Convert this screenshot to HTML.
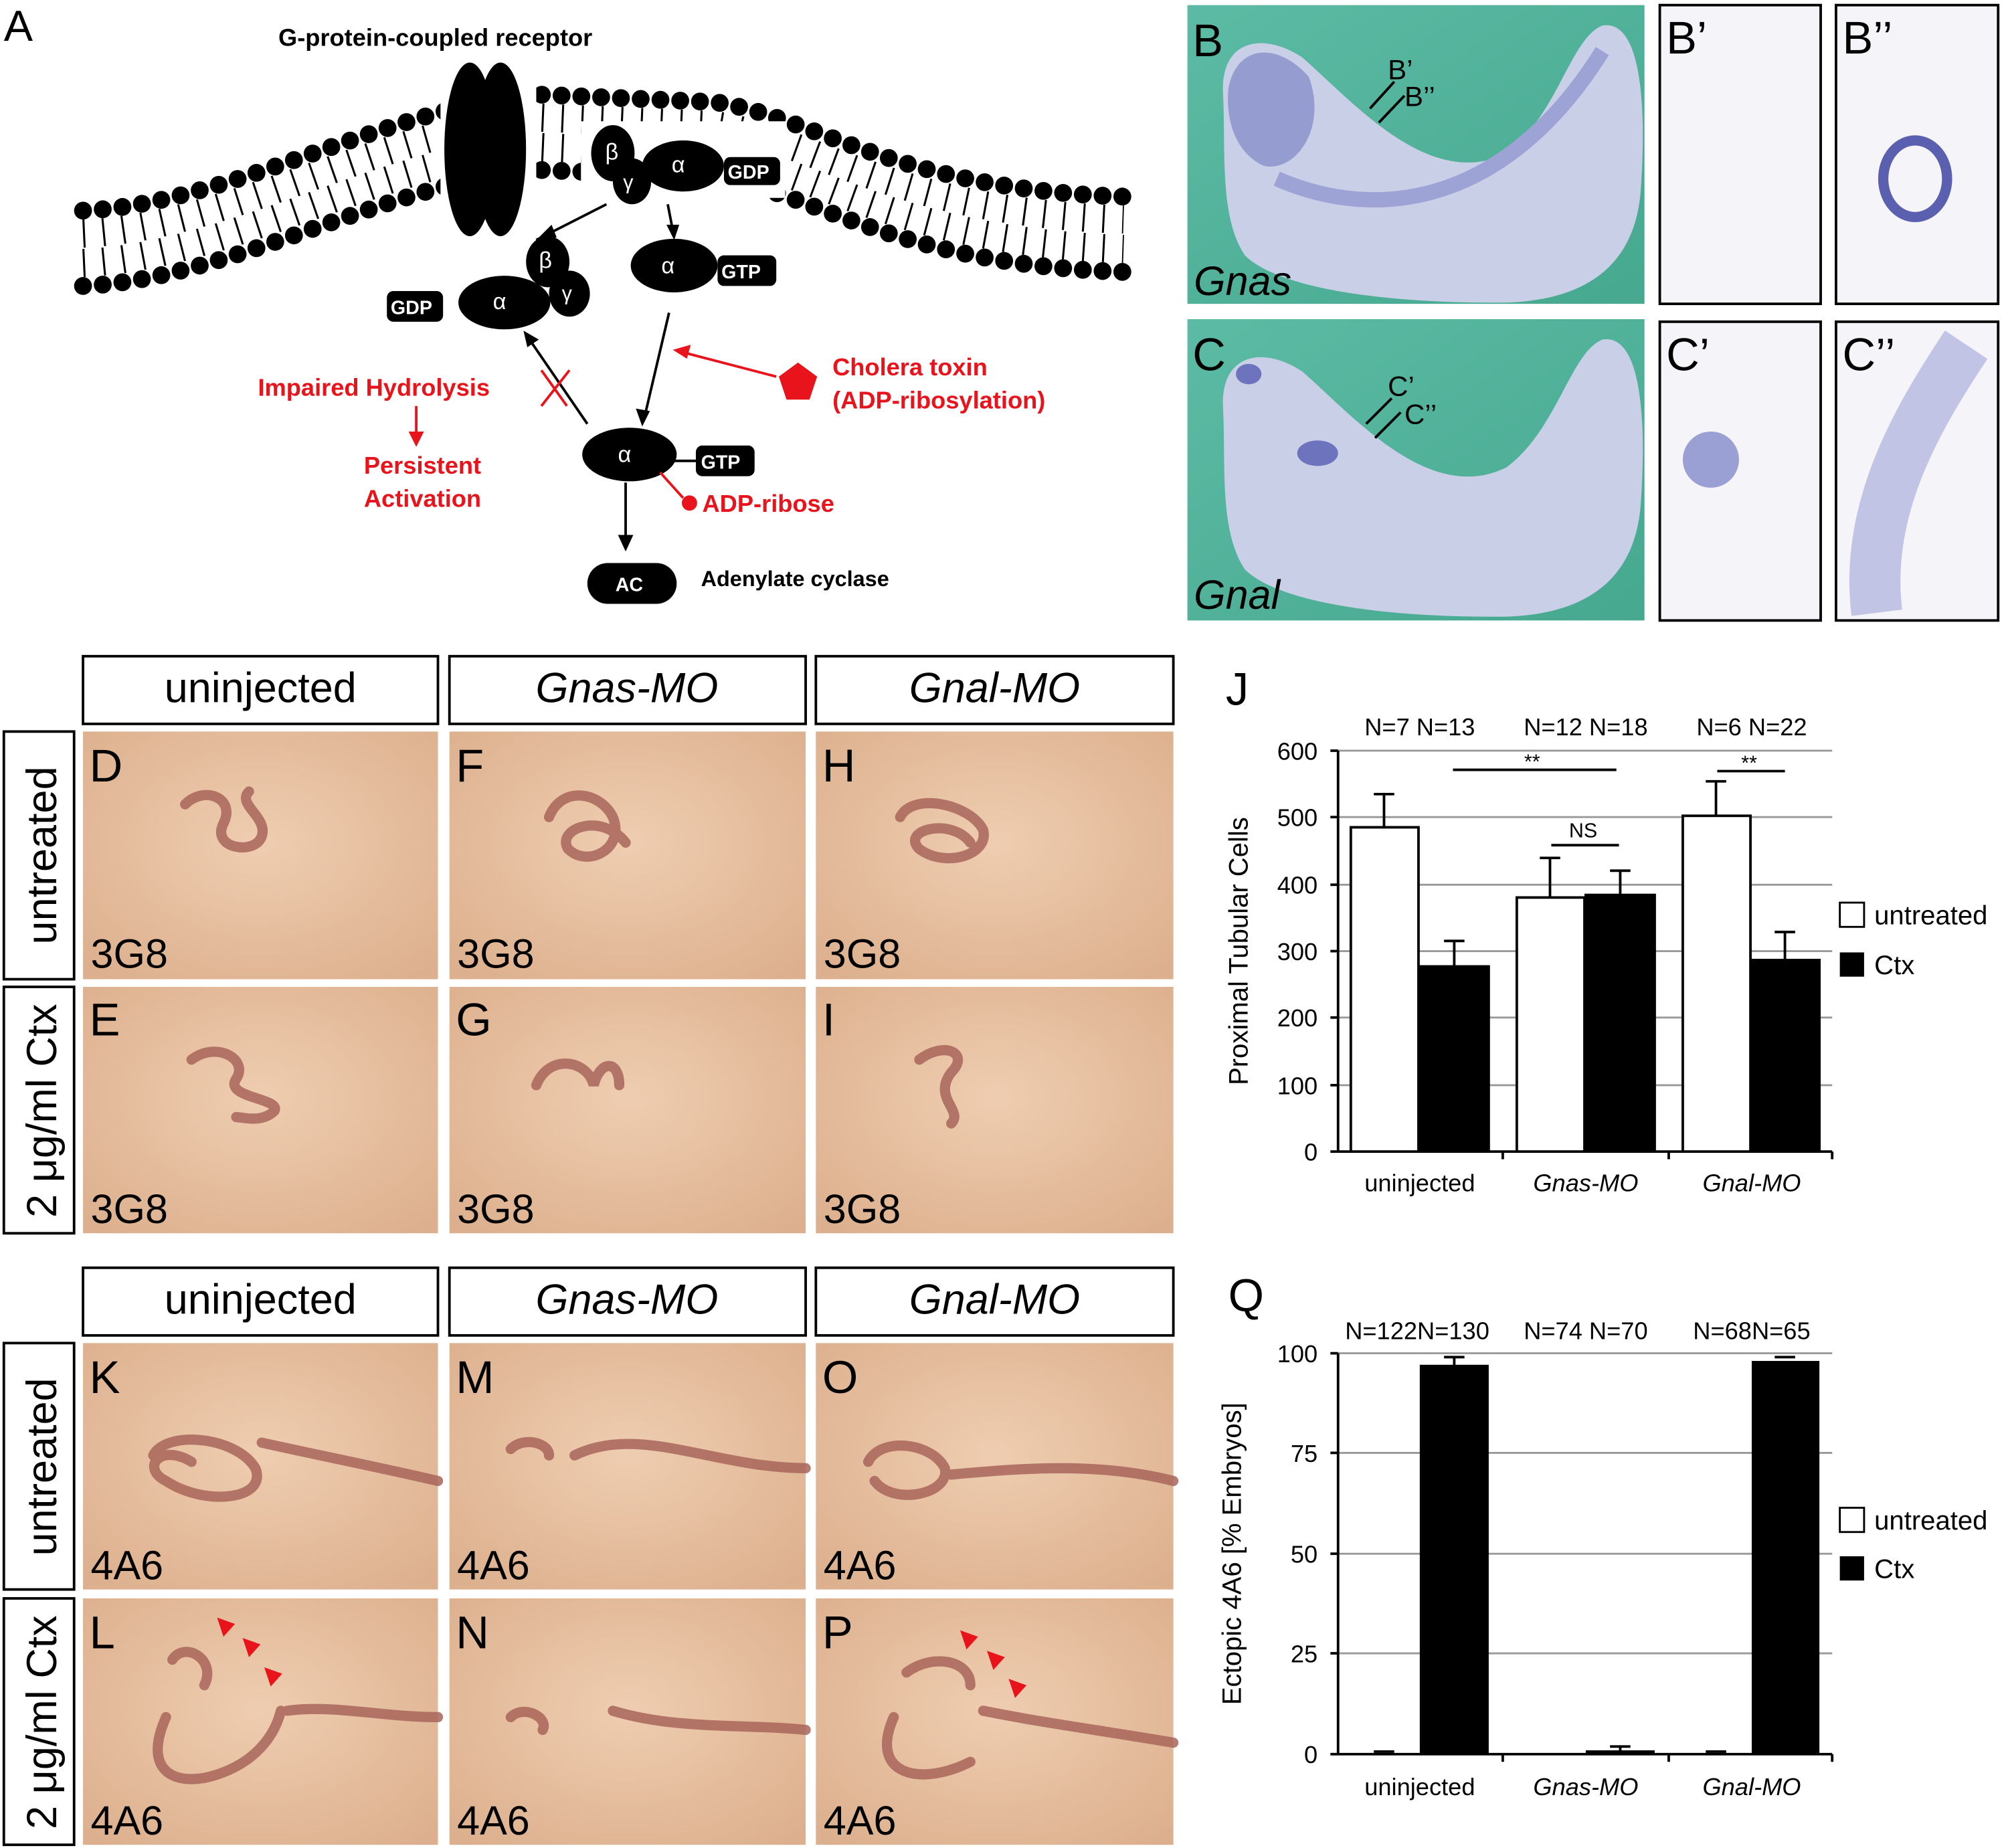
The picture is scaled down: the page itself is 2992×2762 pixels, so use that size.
<!DOCTYPE html>
<html><head><meta charset="utf-8"><style>
html,body{margin:0;padding:0;background:#fff}
svg{display:block}
text{font-family:"Liberation Sans",sans-serif}
</style></head><body>
<svg width="2992" height="2762" viewBox="0 0 1568 1447.5" xmlns="http://www.w3.org/2000/svg">
<defs>
<radialGradient id="skin" cx="50%" cy="45%" r="70%"><stop offset="0" stop-color="#efcdb0"/><stop offset="1" stop-color="#dcb08e"/></radialGradient>
<linearGradient id="teal" x1="0" y1="0" x2="1" y2="1"><stop offset="0" stop-color="#5bbba4"/><stop offset="1" stop-color="#47a890"/></linearGradient>
</defs>
<rect width="1568" height="1448" fill="#fff"/>
<!-- Panel A -->
<text x="3" y="32" font-size="34">A</text>
<text x="218" y="36" font-size="19" font-weight="bold">G-protein-coupled receptor</text>
<g fill="none" stroke="#000" stroke-linecap="round">
<path d="M65,165 C180,160 300,85 420,74 L560,80 C640,92 700,148 880,154" stroke-width="14" stroke-dasharray="0 15.5"/>
<path d="M65,183 C180,178 300,103 420,92 L560,98 C640,110 700,166 880,172" stroke-width="22" stroke-dasharray="1.6 13.9" stroke-linecap="butt"/>
<path d="M65,206 C180,201 300,126 420,115 L560,121 C640,133 700,189 880,195" stroke-width="22" stroke-dasharray="1.6 13.9" stroke-linecap="butt"/>
<path d="M65,224 C180,219 300,144 420,133 L560,139 C640,151 700,207 880,213" stroke-width="14" stroke-dasharray="0 15.5"/>
</g>
<rect x="345" y="40" width="75" height="150" fill="#fff"/>
<rect x="455" y="95" width="160" height="60" fill="#fff"/>
<ellipse cx="368" cy="117" rx="20" ry="68"/><ellipse cx="392" cy="117" rx="20" ry="68"/>
<ellipse cx="480" cy="120" rx="17" ry="22"/><ellipse cx="495" cy="142" rx="15" ry="18"/><ellipse cx="535" cy="130" rx="32" ry="20"/>
<text x="474" y="125" fill="#fff" font-size="18" font-family="Liberation Serif">β</text>
<text x="488" y="148" fill="#fff" font-size="16" font-family="Liberation Serif">γ</text>
<text x="526" y="135" fill="#fff" font-size="18" font-family="Liberation Serif">α</text>
<line x1="567" y1="133" x2="575" y2="133" stroke="#000" stroke-width="2"/>
<rect x="567" y="123" width="44" height="22" rx="5"/><text x="570" y="140" fill="#fff" font-size="15" font-weight="bold">GDP</text>
<ellipse cx="528" cy="208" rx="34" ry="21"/><text x="518" y="214" fill="#fff" font-size="18" font-family="Liberation Serif">α</text>
<rect x="562" y="200" width="46" height="24" rx="5"/><text x="565" y="218" fill="#fff" font-size="15" font-weight="bold">GTP</text>
<ellipse cx="395" cy="237" rx="36" ry="21"/><ellipse cx="429" cy="205" rx="17" ry="20"/><ellipse cx="446" cy="230" rx="16" ry="18"/>
<text x="386" y="242" fill="#fff" font-size="18" font-family="Liberation Serif">α</text>
<text x="422" y="210" fill="#fff" font-size="18" font-family="Liberation Serif">β</text>
<text x="440" y="235" fill="#fff" font-size="16" font-family="Liberation Serif">γ</text>
<rect x="303" y="228" width="44" height="24" rx="5"/><text x="306" y="246" fill="#fff" font-size="15" font-weight="bold">GDP</text>
<g stroke="#000" stroke-width="2" fill="none">
<line x1="475" y1="160" x2="420" y2="188"/><line x1="523" y1="160" x2="528" y2="186"/>
<line x1="524" y1="245" x2="504" y2="330"/><line x1="460" y1="332" x2="412" y2="262"/>
<line x1="490" y1="378" x2="490" y2="428"/>
</g>
<g fill="#000"><polygon points="420,188 432,176 436,186"/><polygon points="528,188 522,176 532,176"/><polygon points="503,334 498,320 509,322"/><polygon points="410,259 422,266 413,272"/><polygon points="490,432 484,419 496,419"/></g>
<ellipse cx="493" cy="356" rx="37" ry="21"/><text x="484" y="362" fill="#fff" font-size="18" font-family="Liberation Serif">α</text>
<line x1="528" y1="361" x2="545" y2="361" stroke="#000" stroke-width="2"/>
<rect x="545" y="349" width="46" height="24" rx="5"/><text x="549" y="367" fill="#fff" font-size="15" font-weight="bold">GTP</text>
<rect x="460" y="441" width="70" height="32" rx="16"/><text x="482" y="463" fill="#fff" font-size="15" font-weight="bold">AC</text>
<text x="549" y="459" font-size="17" font-weight="bold">Adenylate cyclase</text>
<g fill="#e8131b" stroke="#e8131b">
<line x1="608" y1="295" x2="535" y2="276" stroke-width="2"/><polygon points="527,274 541,270 538,281" stroke="none"/>
<polygon points="625,284 640,295 634,313 616,313 610,295" stroke="none"/>
<line x1="424" y1="290" x2="444" y2="318" stroke-width="2"/><line x1="424" y1="318" x2="446" y2="290" stroke-width="2"/>
<line x1="326" y1="318" x2="326" y2="342" stroke-width="2"/><polygon points="326,350 320,338 332,338" stroke="none"/>
<line x1="517" y1="370" x2="535" y2="390" stroke-width="2"/><circle cx="540" cy="394" r="6" stroke="none"/>
</g>
<g fill="#e8131b" font-weight="bold" font-size="19">
<text x="202" y="310">Impaired Hydrolysis</text>
<text x="285" y="371">Persistent</text><text x="285" y="397">Activation</text>
<text x="652" y="294">Cholera toxin</text><text x="652" y="320">(ADP-ribosylation)</text>
<text x="550" y="401">ADP-ribose</text>
</g>
<!-- B / C -->
<rect x="930" y="4" width="358" height="234" fill="url(#teal)"/>
<path d="M958,75 C955,30 990,25 1020,45 C1060,80 1120,150 1180,120 C1220,90 1230,30 1255,20 C1285,15 1290,80 1285,150 C1280,210 1240,235 1180,237 C1080,238 1000,225 975,200 C955,170 960,120 958,75Z" fill="#c9cfe6"/>
<path d="M962,70 C968,35 1000,32 1025,60 C1040,100 1015,135 990,130 C968,120 960,95 962,70Z" fill="#7f86c6" opacity="0.7"/>
<path d="M1000,140 C1080,175 1180,160 1255,40" stroke="#9ea3d6" stroke-width="12" fill="none"/>
<text x="934" y="44" font-size="36">B</text>
<text x="935" y="231" font-size="32" font-style="italic">Gnas</text>
<text x="1087" y="62" font-size="22">B’</text><text x="1100" y="83" font-size="22">B’’</text>
<line x1="1073" y1="85" x2="1092" y2="64" stroke="#000" stroke-width="2"/><line x1="1080" y1="96" x2="1100" y2="75" stroke="#000" stroke-width="2"/>
<rect x="930" y="250" width="358" height="236" fill="url(#teal)"/>
<path d="M958,321 C955,276 990,271 1020,291 C1060,326 1120,396 1180,366 C1220,336 1230,276 1255,266 C1285,261 1290,326 1285,396 C1280,456 1240,481 1180,483 C1080,484 1000,471 975,446 C955,416 960,366 958,321Z" fill="#c9cfe6"/>
<ellipse cx="1032" cy="355" rx="16" ry="10" fill="#6d74bd"/><ellipse cx="978" cy="293" rx="10" ry="8" fill="#6d74bd"/>
<text x="934" y="290" font-size="36">C</text>
<text x="935" y="477" font-size="32" font-style="italic">Gnal</text>
<text x="1087" y="310" font-size="22">C’</text><text x="1100" y="332" font-size="22">C’’</text>
<line x1="1070" y1="332" x2="1090" y2="312" stroke="#000" stroke-width="2"/><line x1="1077" y1="343" x2="1097" y2="323" stroke="#000" stroke-width="2"/>
<g stroke="#000" stroke-width="2" fill="#f4f4f9">
<rect x="1300" y="4" width="126" height="234"/><rect x="1438" y="4" width="127" height="234"/>
<rect x="1300" y="252" width="126" height="234"/><rect x="1438" y="252" width="127" height="234"/>
</g>
<ellipse cx="1500" cy="140" rx="25" ry="30" fill="none" stroke="#5a5fb0" stroke-width="8"/>
<ellipse cx="1340" cy="360" rx="22" ry="22" fill="#9a9fd4"/>
<path d="M1470,480 C1460,400 1500,330 1540,270" stroke="#c2c4e6" stroke-width="40" fill="none"/>
<text x="1305" y="42" font-size="36">B’</text><text x="1443" y="42" font-size="36">B’’</text>
<text x="1305" y="290" font-size="36">C’</text><text x="1443" y="290" font-size="36">C’’</text>
<!-- Grid 1 -->
<g fill="none" stroke="#000" stroke-width="2">
<rect x="65" y="514" width="278" height="53"/><rect x="352" y="514" width="279" height="53"/><rect x="639" y="514" width="280" height="53"/>
<rect x="3" y="573" width="55" height="194"/><rect x="3" y="773" width="55" height="193"/>
<rect x="65" y="993" width="278" height="53"/><rect x="352" y="993" width="279" height="53"/><rect x="639" y="993" width="280" height="53"/>
<rect x="3" y="1052" width="55" height="193"/><rect x="3" y="1252" width="55" height="193"/>
</g>
<g font-size="33" text-anchor="middle">
<text x="204" y="550">uninjected</text><text x="491" y="550" font-style="italic">Gnas-MO</text><text x="779" y="550" font-style="italic">Gnal-MO</text>
<text x="204" y="1029">uninjected</text><text x="491" y="1029" font-style="italic">Gnas-MO</text><text x="779" y="1029" font-style="italic">Gnal-MO</text>
<text transform="translate(44,670) rotate(-90)">untreated</text><text transform="translate(44,870) rotate(-90)">2 μg/ml Ctx</text>
<text transform="translate(44,1149) rotate(-90)">untreated</text><text transform="translate(44,1349) rotate(-90)">2 μg/ml Ctx</text>
</g>
<g fill="url(#skin)">
<rect x="65" y="573" width="278" height="194"/><rect x="352" y="573" width="279" height="194"/><rect x="639" y="573" width="280" height="194"/>
<rect x="65" y="773" width="278" height="193"/><rect x="352" y="773" width="279" height="193"/><rect x="639" y="773" width="280" height="193"/>
<rect x="65" y="1052" width="278" height="193"/><rect x="352" y="1052" width="279" height="193"/><rect x="639" y="1052" width="280" height="193"/>
<rect x="65" y="1252" width="278" height="193"/><rect x="352" y="1252" width="279" height="193"/><rect x="639" y="1252" width="280" height="193"/>
</g>
<g fill="none" stroke="#a8655a" stroke-width="8" stroke-linecap="round" opacity="0.85">
<path d="M145,630 C160,615 185,625 175,645 C165,665 200,670 205,655 C210,640 185,630 195,620"/>
<path d="M430,640 C440,615 470,620 480,640 C490,665 460,680 445,665 C435,650 470,635 490,660"/>
<path d="M705,640 C715,620 760,630 770,650 C775,670 740,680 720,665 C705,650 745,640 760,660"/>
<path d="M150,830 C170,815 195,830 185,845 C175,860 220,860 215,870 C205,880 190,875 185,875"/>
<path d="M420,850 C430,825 460,830 465,850 C470,830 485,830 485,850"/>
<path d="M720,830 C740,815 760,825 745,840 C730,860 755,870 745,880"/>
<path d="M120,1140 C130,1120 185,1125 200,1150 C210,1175 160,1180 130,1160 C110,1150 125,1130 150,1145 M205,1130 C250,1140 300,1150 343,1160"/>
<path d="M400,1135 C410,1125 430,1130 430,1140 M450,1140 C500,1115 560,1150 631,1150"/>
<path d="M680,1145 C690,1125 730,1130 740,1150 C745,1170 700,1180 685,1160 M745,1155 C800,1150 860,1145 919,1160"/>
<path d="M135,1300 C145,1285 170,1300 160,1320 M130,1345 C110,1390 140,1400 170,1390 C200,1380 215,1360 220,1340 M225,1340 C260,1335 300,1345 343,1345"/>
<path d="M400,1345 C410,1335 430,1345 425,1355 M480,1340 C530,1355 580,1350 631,1355"/>
<path d="M710,1310 C730,1295 760,1300 760,1320 M700,1345 C680,1390 720,1400 760,1380 M770,1340 C820,1350 860,1355 919,1365"/>
</g>
<g fill="#e8131b"><polygon points="170,1267 184,1272 175,1282"/><polygon points="190,1283 204,1288 195,1298"/><polygon points="207,1306 221,1311 212,1321"/>
<polygon points="752,1277 766,1282 757,1292"/><polygon points="773,1293 787,1298 778,1308"/><polygon points="790,1315 804,1320 795,1330"/></g>
<g font-size="36">
<text x="70" y="612">D</text><text x="357" y="612">F</text><text x="644" y="612">H</text>
<text x="70" y="811">E</text><text x="357" y="811">G</text><text x="644" y="811">I</text>
<text x="70" y="1091">K</text><text x="357" y="1091">M</text><text x="644" y="1091">O</text>
<text x="70" y="1291">L</text><text x="357" y="1291">N</text><text x="644" y="1291">P</text>
</g>
<g font-size="32">
<text x="71" y="758">3G8</text><text x="358" y="758">3G8</text><text x="645" y="758">3G8</text>
<text x="71" y="958">3G8</text><text x="358" y="958">3G8</text><text x="645" y="958">3G8</text>
<text x="71" y="1237">4A6</text><text x="358" y="1237">4A6</text><text x="645" y="1237">4A6</text>
<text x="71" y="1437">4A6</text><text x="358" y="1437">4A6</text><text x="645" y="1437">4A6</text>
</g>
<!-- Chart J -->
<text x="960" y="552" font-size="36">J</text>
<g stroke="#999" stroke-width="1.5"><line x1="1048" y1="588" x2="1435" y2="588"/><line x1="1048" y1="640" x2="1435" y2="640"/><line x1="1048" y1="693" x2="1435" y2="693"/><line x1="1048" y1="745" x2="1435" y2="745"/><line x1="1048" y1="797" x2="1435" y2="797"/><line x1="1048" y1="850" x2="1435" y2="850"/></g>
<g stroke="#000" stroke-width="2"><line x1="1048" y1="588" x2="1048" y2="902"/><line x1="1048" y1="902" x2="1435" y2="902"/>
<line x1="1042" y1="588" x2="1048" y2="588"/><line x1="1042" y1="640" x2="1048" y2="640"/><line x1="1042" y1="693" x2="1048" y2="693"/><line x1="1042" y1="745" x2="1048" y2="745"/><line x1="1042" y1="797" x2="1048" y2="797"/><line x1="1042" y1="850" x2="1048" y2="850"/><line x1="1042" y1="902" x2="1048" y2="902"/>
<line x1="1177" y1="902" x2="1177" y2="908"/><line x1="1307" y1="902" x2="1307" y2="908"/><line x1="1435" y1="902" x2="1435" y2="908"/>
<line x1="1084" y1="648" x2="1084" y2="622"/><line x1="1076" y1="622" x2="1092" y2="622"/>
<line x1="1139" y1="757" x2="1139" y2="737"/><line x1="1131" y1="737" x2="1147" y2="737"/>
<line x1="1214" y1="703" x2="1214" y2="672"/><line x1="1206" y1="672" x2="1222" y2="672"/>
<line x1="1269" y1="701" x2="1269" y2="682"/><line x1="1261" y1="682" x2="1277" y2="682"/>
<line x1="1344" y1="639" x2="1344" y2="612"/><line x1="1336" y1="612" x2="1352" y2="612"/>
<line x1="1398" y1="752" x2="1398" y2="730"/><line x1="1390" y1="730" x2="1406" y2="730"/>
<line x1="1138" y1="603" x2="1266" y2="603"/><line x1="1215" y1="662" x2="1268" y2="662"/><line x1="1345" y1="604" x2="1398" y2="604"/>
</g>
<g stroke="#000" stroke-width="2"><rect x="1058" y="648" width="53" height="254" fill="#fff"/><rect x="1112" y="757" width="54" height="145" fill="#000"/>
<rect x="1188" y="703" width="53" height="199" fill="#fff"/><rect x="1242" y="701" width="54" height="201" fill="#000"/>
<rect x="1318" y="639" width="53" height="263" fill="#fff"/><rect x="1372" y="752" width="53" height="150" fill="#000"/></g>
<g font-size="19" text-anchor="end"><text x="1032" y="595">600</text><text x="1032" y="647">500</text><text x="1032" y="700">400</text><text x="1032" y="752">300</text><text x="1032" y="804">200</text><text x="1032" y="857">100</text><text x="1032" y="909">0</text></g>
<text transform="translate(977,745) rotate(-90)" font-size="21" text-anchor="middle">Proximal Tubular Cells</text>
<g font-size="19" text-anchor="middle"><text x="1112" y="576">N=7 N=13</text><text x="1242" y="576">N=12 N=18</text><text x="1372" y="576">N=6 N=22</text>
<text x="1200" y="602" font-size="16">**</text><text x="1240" y="656" font-size="16">NS</text><text x="1370" y="603" font-size="16">**</text>
<text x="1112" y="933">uninjected</text><text x="1242" y="933" font-style="italic">Gnas-MO</text><text x="1372" y="933" font-style="italic">Gnal-MO</text></g>
<rect x="1441" y="707" width="19" height="19" fill="#fff" stroke="#000" stroke-width="1.5"/><text x="1468" y="724" font-size="21">untreated</text>
<rect x="1441" y="746" width="19" height="19" fill="#000"/><text x="1468" y="763" font-size="21">Ctx</text>
<!-- Chart Q -->
<text x="962" y="1027" font-size="36">Q</text>
<g stroke="#999" stroke-width="1.5"><line x1="1048" y1="1060" x2="1435" y2="1060"/><line x1="1048" y1="1138" x2="1435" y2="1138"/><line x1="1048" y1="1217" x2="1435" y2="1217"/><line x1="1048" y1="1295" x2="1435" y2="1295"/></g>
<g stroke="#000" stroke-width="2"><line x1="1048" y1="1060" x2="1048" y2="1374"/><line x1="1048" y1="1374" x2="1435" y2="1374"/>
<line x1="1042" y1="1060" x2="1048" y2="1060"/><line x1="1042" y1="1138" x2="1048" y2="1138"/><line x1="1042" y1="1217" x2="1048" y2="1217"/><line x1="1042" y1="1295" x2="1048" y2="1295"/><line x1="1042" y1="1374" x2="1048" y2="1374"/>
<line x1="1177" y1="1374" x2="1177" y2="1380"/><line x1="1307" y1="1374" x2="1307" y2="1380"/><line x1="1435" y1="1374" x2="1435" y2="1380"/>
<line x1="1076" y1="1372" x2="1092" y2="1372"/><line x1="1131" y1="1063" x2="1147" y2="1063"/><line x1="1139" y1="1063" x2="1139" y2="1070"/>
<line x1="1261" y1="1368" x2="1277" y2="1368"/><line x1="1269" y1="1368" x2="1269" y2="1374"/><line x1="1336" y1="1372" x2="1352" y2="1372"/>
<line x1="1390" y1="1063" x2="1406" y2="1063"/></g>
<rect x="1112" y="1069" width="54" height="305" fill="#000"/><rect x="1242" y="1371" width="54" height="3" fill="#000"/><rect x="1372" y="1066" width="53" height="308" fill="#000"/>
<g font-size="19" text-anchor="end"><text x="1032" y="1067">100</text><text x="1032" y="1145">75</text><text x="1032" y="1224">50</text><text x="1032" y="1302">25</text><text x="1032" y="1381">0</text></g>
<text transform="translate(972,1217) rotate(-90)" font-size="21" text-anchor="middle">Ectopic 4A6 [% Embryos]</text>
<g font-size="19" text-anchor="middle"><text x="1110" y="1049">N=122N=130</text><text x="1242" y="1049">N=74 N=70</text><text x="1372" y="1049">N=68N=65</text>
<text x="1112" y="1406">uninjected</text><text x="1242" y="1406" font-style="italic">Gnas-MO</text><text x="1372" y="1406" font-style="italic">Gnal-MO</text></g>
<rect x="1441" y="1181" width="19" height="19" fill="#fff" stroke="#000" stroke-width="1.5"/><text x="1468" y="1198" font-size="21">untreated</text>
<rect x="1441" y="1219" width="19" height="19" fill="#000"/><text x="1468" y="1236" font-size="21">Ctx</text>
</svg>
</body></html>
